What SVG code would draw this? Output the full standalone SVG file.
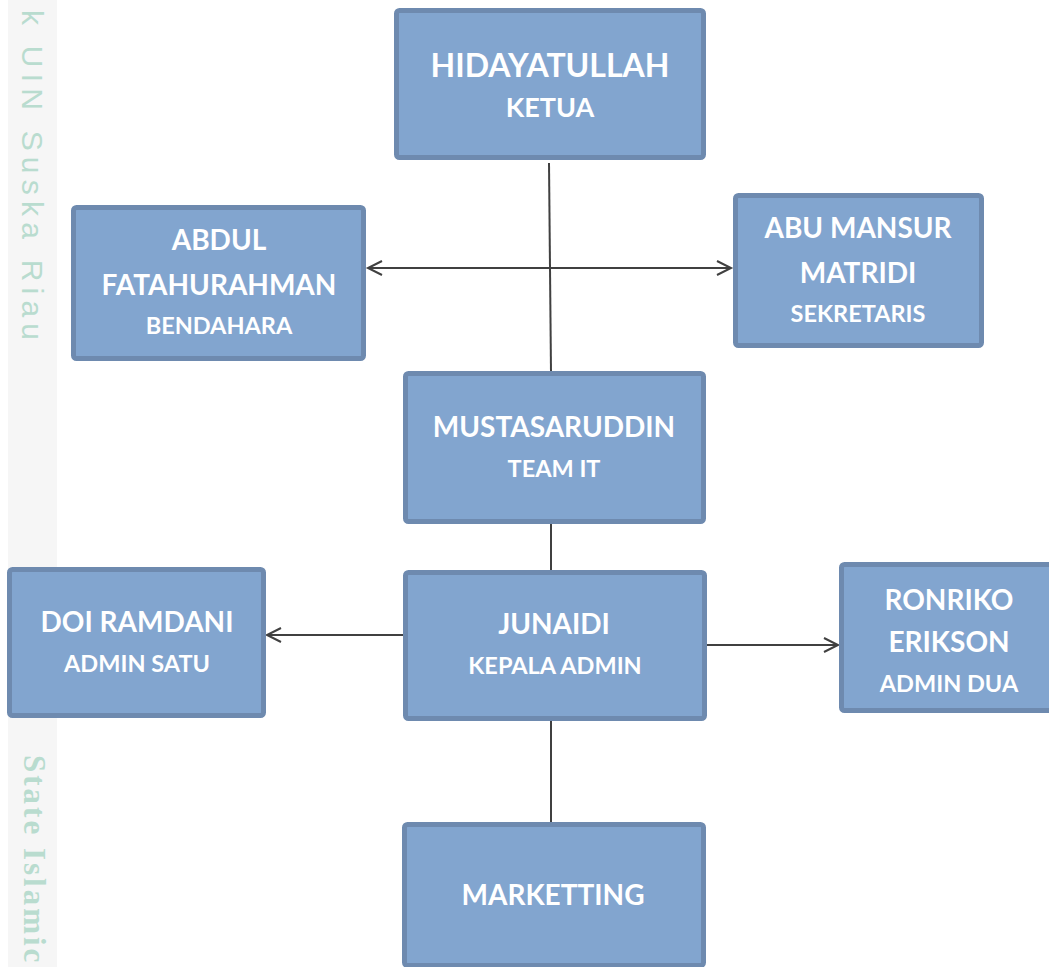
<svg xmlns="http://www.w3.org/2000/svg" width="1049" height="967" viewBox="0 0 1049 967">
  <style>
    .box { fill: #82a5cf; stroke: #6e8aaf; stroke-width: 5; }
    .t { font-family: Lato, "Open Sans", "Liberation Sans", sans-serif; font-weight: bold; fill: #ffffff; text-anchor: middle; }
    .n { font-size: 28px; }
    .s { font-size: 23.5px; }
    .c { stroke: #404040; stroke-width: 2; fill: none; }
    .wm1 { font-family: "Liberation Sans", sans-serif; font-size: 30px; fill: #b9dccf; }
    .wm2 { font-family: "Liberation Serif", serif; font-weight: bold; font-size: 31px; fill: #b9dccf; letter-spacing: 3px; }
  </style>
  <defs>
    <marker id="arr" markerUnits="userSpaceOnUse" markerWidth="20" markerHeight="20" refX="15" refY="8" orient="auto-start-reverse" viewBox="0 0 20 16">
      <path d="M1,1 L15,8 L1,15" fill="none" stroke="#404040" stroke-width="2"/>
    </marker>
  </defs>
  <rect x="0" y="0" width="1049" height="967" fill="#ffffff"/>
  <g id="watermark">
    <rect x="8" y="0" width="49" height="967" fill="#f6f6f6"/>
    <text class="wm1" transform="translate(22,10) rotate(90)" textLength="330" lengthAdjust="spacing">k UIN Suska Riau</text>
    <text class="wm2" transform="translate(24,755) rotate(90)">State Islamic</text>
  </g>
  <g id="connectors">
    <line class="c" x1="549" y1="163" x2="551" y2="372"/>
    <line class="c" x1="368" y1="268" x2="731" y2="268" marker-start="url(#arr)" marker-end="url(#arr)"/>
    <line class="c" x1="551" y1="519" x2="551" y2="572"/>
    <line class="c" x1="406" y1="635" x2="267" y2="635" marker-end="url(#arr)"/>
    <line class="c" x1="705" y1="645" x2="838" y2="645" marker-end="url(#arr)"/>
    <line class="c" x1="551" y1="711" x2="551" y2="823"/>
  </g>
  <g id="node-hidayatullah">
    <rect class="box" x="396.5" y="10.5" width="307" height="147" rx="3"/>
    <text class="t" x="550" y="77" font-size="32">HIDAYATULLAH</text>
    <text class="t" x="550" y="117" font-size="27">KETUA</text>
  </g>
  <g id="node-abdul">
    <rect class="box" x="73.5" y="207.5" width="290" height="151" rx="3"/>
    <text class="t n" x="219" y="250">ABDUL</text>
    <text class="t n" x="219" y="295">FATAHURAHMAN</text>
    <text class="t s" x="219" y="334">BENDAHARA</text>
  </g>
  <g id="node-abumansur">
    <rect class="box" x="735.5" y="195.5" width="246" height="150" rx="3"/>
    <text class="t n" x="858" y="238">ABU MANSUR</text>
    <text class="t n" x="858" y="283">MATRIDI</text>
    <text class="t s" x="858" y="322">SEKRETARIS</text>
  </g>
  <g id="node-mustasaruddin">
    <rect class="box" x="405.5" y="373.5" width="298" height="148" rx="3"/>
    <text class="t n" x="554" y="437">MUSTASARUDDIN</text>
    <text class="t s" x="554" y="477">TEAM IT</text>
  </g>
  <g id="node-junaidi">
    <rect class="box" x="405.5" y="572.5" width="299" height="146" rx="3"/>
    <text class="t n" x="554" y="634">JUNAIDI</text>
    <text class="t s" x="555" y="674">KEPALA ADMIN</text>
  </g>
  <g id="node-doiramdani">
    <rect class="box" x="9.5" y="569.5" width="254" height="146" rx="3"/>
    <text class="t n" x="137" y="632">DOI RAMDANI</text>
    <text class="t s" x="137" y="672">ADMIN SATU</text>
  </g>
  <g id="node-ronriko">
    <rect class="box" x="841.5" y="564.5" width="212" height="146" rx="3"/>
    <text class="t n" x="949" y="610">RONRIKO</text>
    <text class="t n" x="949" y="652">ERIKSON</text>
    <text class="t s" x="949" y="692">ADMIN DUA</text>
  </g>
  <g id="node-marketting">
    <rect class="box" x="404.5" y="824.5" width="299" height="141" rx="3"/>
    <text class="t n" x="553" y="905">MARKETTING</text>
  </g>
</svg>
